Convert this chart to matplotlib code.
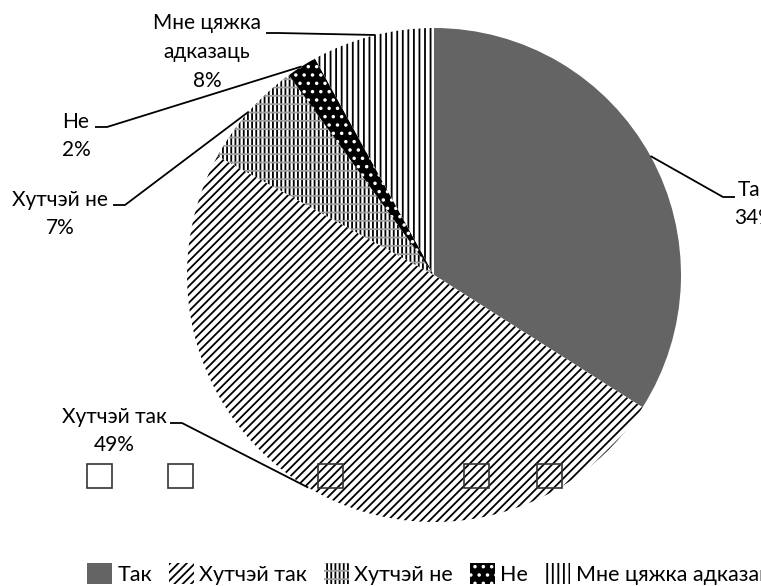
import numpy as np
import matplotlib.pyplot as plt
from matplotlib.patches import Patch, Rectangle

plt.rcParams['font.family'] = ['Lato', 'DejaVu Sans']
plt.rcParams['hatch.linewidth'] = 1.3

# data
categories = ['Так', 'Хутчэй так', 'Хутчэй не', 'Не', 'Мне цяжка адказаць']
values = [34, 49, 7, 2, 8]
label_names = ['Так', 'Хутчэй так', 'Хутчэй не', 'Не', 'Мне цяжка\nадказаць']

faces = ['#646464', 'white', 'white', 'black', 'white']
edges = ['#646464', 'black', 'black', 'white', 'black']
hatches = [None, '////', '||||', '..', '|||']
# second layer (horizontal grey bands for "Хутчэй не")
top_hatches = [None, None, '--', None, None]

W, H = 761, 586
cx, cy, R = 434, 275, 247

fig = plt.figure(figsize=(W / 100, H / 100), dpi=100)
ax = fig.add_axes([(cx - R) / W, 1 - (cy + R) / H, 2 * R / W, 2 * R / H])


def style(w, fc, ec, h):
    w.set_facecolor(fc)
    w.set_edgecolor(ec)
    w.set_linewidth(0)
    if h:
        w.set_hatch(h)


wedges, _ = ax.pie(values, startangle=90, counterclock=False, radius=1)
for w, fc, ec, h in zip(wedges, faces, edges, hatches):
    style(w, fc, ec, h)

top, _ = ax.pie(values, startangle=90, counterclock=False, radius=1)
for w, h in zip(top, top_hatches):
    style(w, 'none', '#a0a0a0', h)

ax.set_xlim(-1, 1)
ax.set_ylim(-1, 1)
ax.axis('off')


def to_data(px, py):
    return (px - cx) / R, (cy - py) / R


# label text centres and leader line starts (pixels)
text_pos = [(755, 204), (114, 431), (60, 214), (76, 136), (207, 52)]
line_start = [(735, 197), (170, 423), (113, 205), (95, 127), (266, 33)]

for w, name, v, tp, ls in zip(wedges, label_names, values, text_pos, line_start):
    ang = np.deg2rad((w.theta1 + w.theta2) / 2)
    ex, ey = np.cos(ang), np.sin(ang)
    if name.startswith('Мне'):
        ey = (cy - 35) / R
        ex = -np.sqrt(1 - ey ** 2)
    tx, ty = to_data(*tp)
    ax.text(tx, ty, f'{name}\n{v}%', ha='center', va='center', fontsize=15,
            linespacing=1.55, clip_on=False)
    sx, sy = to_data(*ls)
    hx = -12 / R if ex > 0 else 12 / R
    ax.plot([sx, sx + hx, ex], [sy, sy, ey], color='black', lw=1.3,
            clip_on=False, solid_capstyle='butt')

# stray empty legend boxes
for px in [87, 168, 318, 464, 537]:
    x0, y0 = to_data(px, 488)
    ax.add_patch(Rectangle((x0, y0), 25 / R, 24 / R, facecolor='none',
                           edgecolor='#333333', lw=1.2, clip_on=False))

handles = []
for fc, ec, h, th in zip(faces, edges, hatches, top_hatches):
    p = Patch(facecolor=fc, edgecolor=ec, hatch=h, linewidth=0)
    if th:
        p2 = Patch(facecolor='none', edgecolor='#a0a0a0', hatch=th, linewidth=0)
        handles.append((p, p2))
    else:
        handles.append(p)
fig.legend(handles, categories, loc='center left', ncol=5, frameon=False,
           bbox_to_anchor=(87 / W, 1 - 574 / H), fontsize=15.5, borderpad=0,
           handlelength=1.15, handleheight=1.1, handletextpad=0.25,
           columnspacing=0.8, borderaxespad=0)

fig.savefig('out.png', dpi=100)
